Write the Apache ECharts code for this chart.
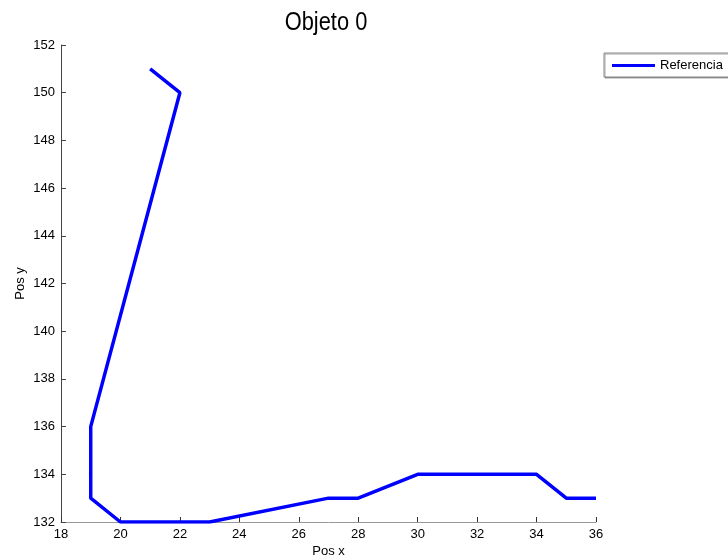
<!DOCTYPE html>
<html>
<head>
<meta charset="utf-8">
<script src="https://cdn.jsdelivr.net/npm/echarts@6/dist/echarts.min.js"></script>
<style>
html,body{margin:0;padding:0;background:#fff;}
#chart{width:728px;height:558px;}
</style>
</head>
<body>
<div id="chart"></div>
<script>
var titleText = 'Objeto 0';
var seriesName = 'Referencia';
var xName = 'Pos x';
var yName = 'Pos y';
var posX = [21, 22, 19, 19, 20, 21, 23, 27, 28, 30, 33, 34, 35, 36];
var posY = [151, 150, 136, 133, 132, 132, 132, 133, 133, 134, 134, 134, 133, 133];
var xTicks = [18, 20, 22, 24, 26, 28, 30, 32, 34, 36];
var yTicks = [132, 134, 136, 138, 140, 142, 144, 146, 148, 150, 152];

var data = posX.map(function (x, i) { return [x, posY[i]]; });
var font = 'Liberation Sans, Arial, sans-serif';

var chart = echarts.init(document.getElementById('chart'), null, {renderer: 'canvas'});
chart.setOption({
  animation: false,
  backgroundColor: '#ffffff',
  graphic: [{
    type: 'text',
    x: 326,
    y: 23,
    scaleX: 0.84,
    style: {
      text: titleText,
      fill: '#000',
      font: '26px Liberation Sans, Arial, sans-serif',
      align: 'center',
      verticalAlign: 'middle'
    }
  }],
  legend: {
    left: 604,
    top: 53,
    orient: 'horizontal',
    padding: [6, 20, 5, 8],
    itemWidth: 43,
    itemHeight: 3,
    itemGap: 5,
    icon: 'rect',
    backgroundColor: '#fff',
    borderColor: '#888',
    borderWidth: 1,
    shadowColor: 'rgba(0,0,0,0.35)',
    shadowOffsetX: 1,
    shadowOffsetY: 1,
    shadowBlur: 0,
    textStyle: {fontFamily: font, fontSize: 13, color: '#000'},
    data: [{name: seriesName}]
  },
  grid: {left: 61, right: 132, top: 45, bottom: 36, containLabel: false, outerBoundsMode: 'none'},
  xAxis: {
    type: 'value',
    min: xTicks[0],
    max: xTicks[xTicks.length - 1],
    interval: 2,
    name: xName,
    nameLocation: 'middle',
    nameGap: 23,
    nameMoveOverlap: false,
    nameTextStyle: {fontFamily: font, fontSize: 13, color: '#000'},
    axisLine: {show: true, onZero: false, lineStyle: {color: '#999', width: 1}},
    axisTick: {show: true, inside: true, length: 5, lineStyle: {color: '#333'}},
    axisLabel: {fontFamily: font, fontSize: 13, color: '#000', margin: 6},
    splitLine: {show: false}
  },
  yAxis: {
    type: 'value',
    min: yTicks[0],
    max: yTicks[yTicks.length - 1],
    interval: 2,
    name: yName,
    nameLocation: 'middle',
    nameGap: 34,
    nameMoveOverlap: false,
    nameTextStyle: {fontFamily: font, fontSize: 13, color: '#000'},
    axisLine: {show: true, onZero: false, lineStyle: {color: '#444', width: 1}},
    axisTick: {show: true, inside: true, length: 5, lineStyle: {color: '#444'}},
    axisLabel: {fontFamily: font, fontSize: 13, color: '#000', margin: 6},
    splitLine: {show: false}
  },
  series: [{
    name: seriesName,
    type: 'line',
    data: data,
    symbol: 'none',
    showSymbol: false,
    lineStyle: {color: '#0000ff', width: 3.5},
    itemStyle: {color: '#0000ff'}
  }]
});
</script>
</body>
</html>
